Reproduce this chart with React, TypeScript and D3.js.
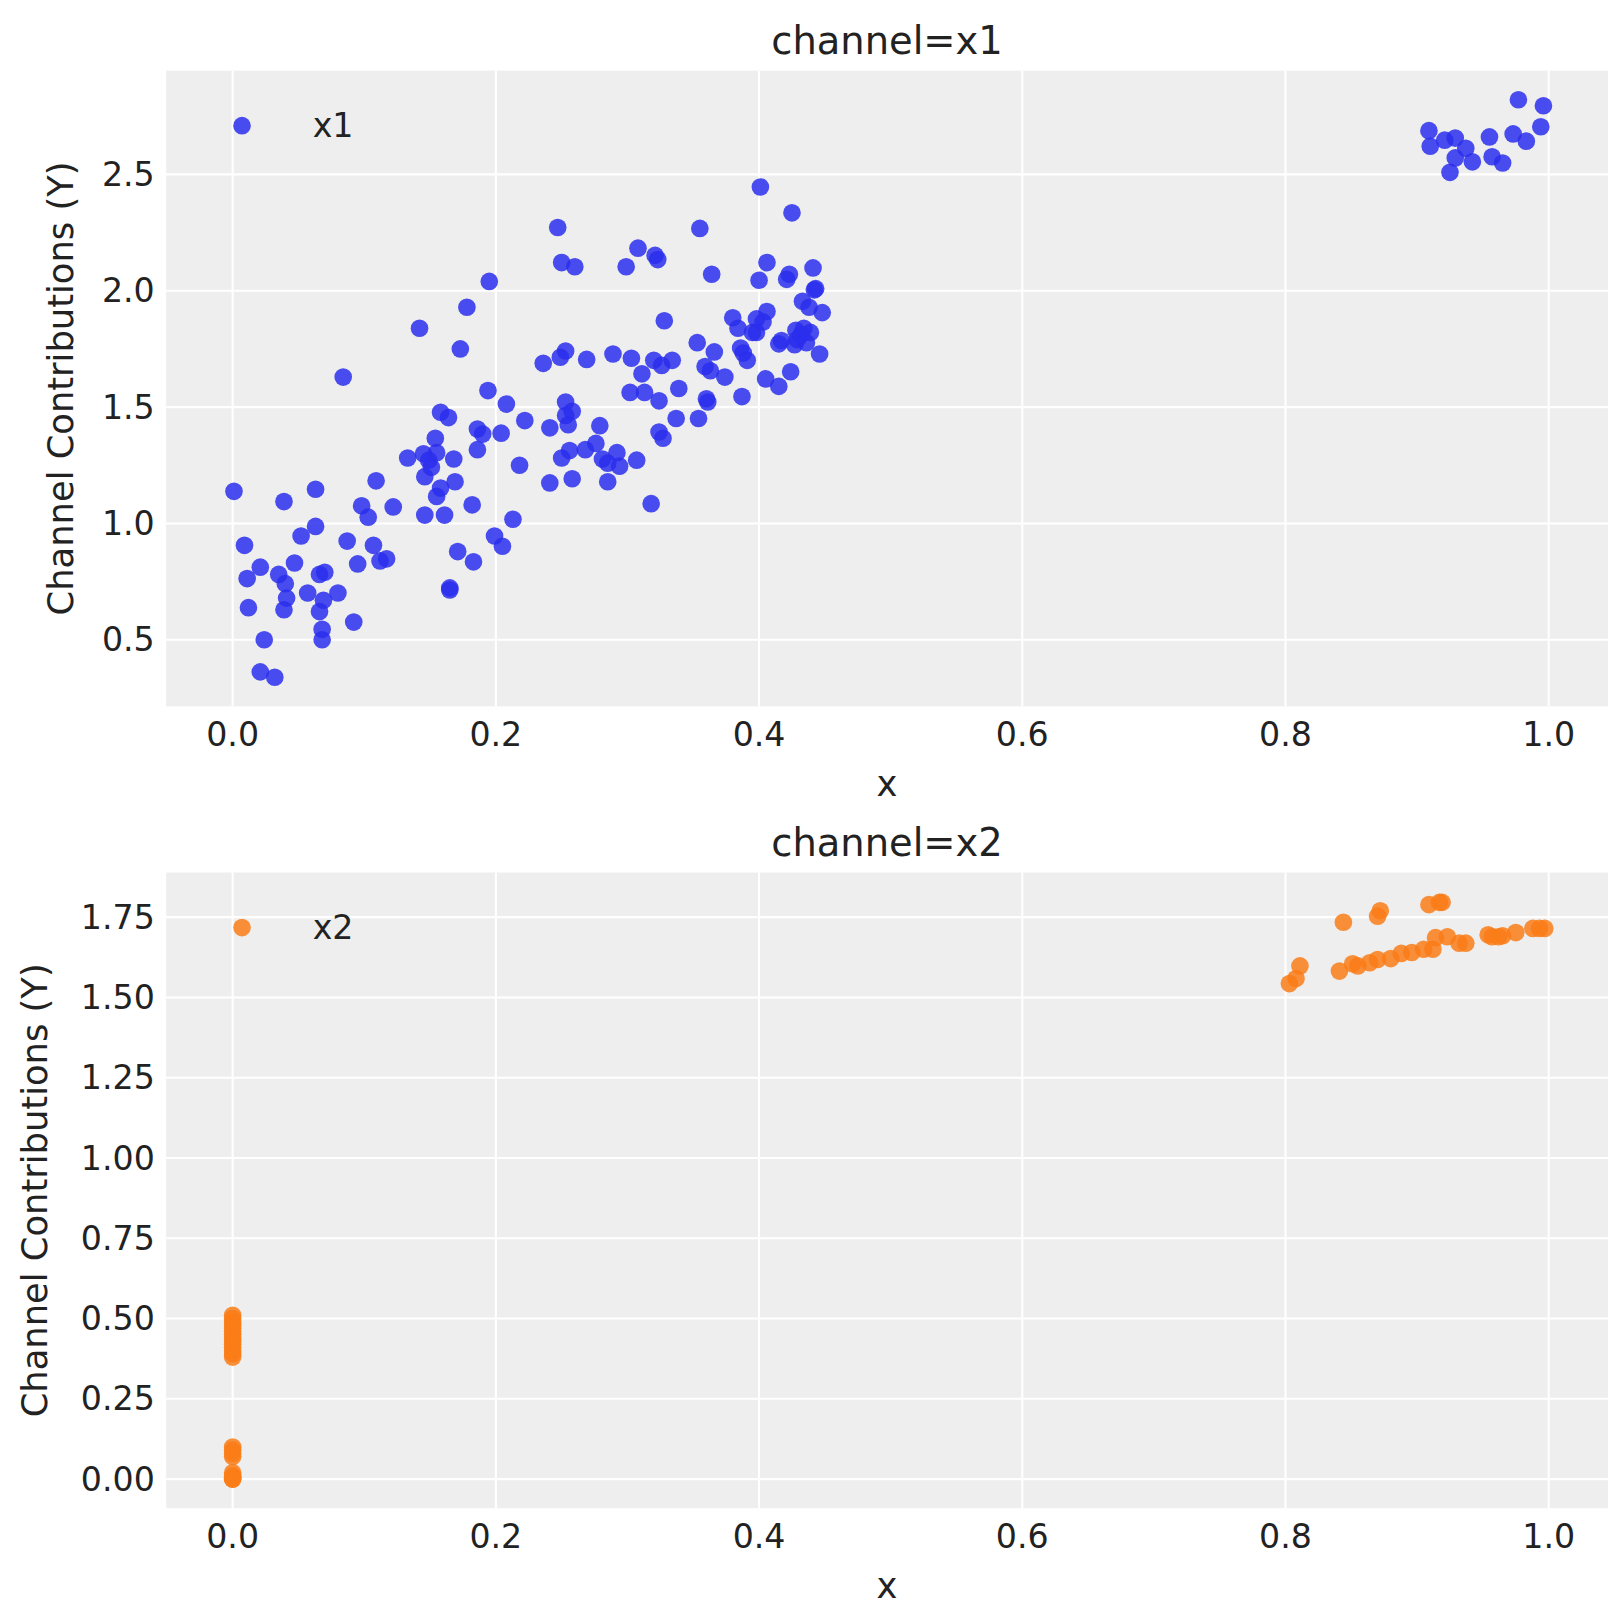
import React from "react";
import * as d3 from "d3";

const x1X = [0.001,0.009,0.011,0.012,0.021,0.024,0.021,0.032,0.035,0.039,0.040,0.041,0.039,0.047,0.052,0.057,0.063,0.063,0.066,0.070,0.069,0.066,0.068,0.068,0.080,0.084,0.087,0.092,0.095,0.098,0.103,0.107,0.109,0.112,0.117,0.122,0.133,0.142,0.145,0.146,0.146,0.149,0.151,0.154,0.155,0.155,0.158,0.158,0.161,0.164,0.165,0.165,0.168,0.169,0.171,0.173,0.178,0.182,0.183,0.186,0.186,0.190,0.194,0.195,0.199,0.204,0.205,0.208,0.213,0.218,0.222,0.236,0.241,0.241,0.247,0.249,0.250,0.250,0.253,0.253,0.253,0.255,0.256,0.258,0.258,0.260,0.268,0.269,0.276,0.279,0.281,0.285,0.285,0.289,0.292,0.294,0.299,0.302,0.303,0.307,0.308,0.311,0.313,0.318,0.320,0.321,0.323,0.324,0.324,0.326,0.327,0.328,0.334,0.337,0.339,0.353,0.354,0.355,0.359,0.360,0.361,0.363,0.364,0.366,0.374,0.380,0.384,0.386,0.387,0.388,0.391,0.395,0.398,0.398,0.400,0.401,0.403,0.405,0.406,0.406,0.415,0.415,0.417,0.421,0.423,0.424,0.425,0.427,0.428,0.429,0.432,0.433,0.434,0.436,0.438,0.439,0.441,0.442,0.443,0.446,0.448,
0.909,0.910,0.921,0.925,0.929,0.929,0.937,0.942,0.955,0.957,0.965,0.973,0.977,0.983,0.994,0.996];
const x1Y = [1.138,0.906,0.763,0.638,0.812,0.500,0.362,0.339,0.781,1.094,0.741,0.679,0.629,0.830,0.946,0.701,1.147,0.987,0.781,0.790,0.670,0.621,0.545,0.500,0.701,1.629,0.924,0.576,0.826,1.076,1.027,0.906,1.183,0.839,0.848,1.071,1.281,1.839,1.299,1.201,1.036,1.272,1.241,1.366,1.304,1.116,1.152,1.478,1.036,1.455,0.723,0.714,1.277,1.179,0.879,1.750,1.929,1.080,0.835,1.317,1.406,1.384,1.571,2.040,0.946,1.388,0.902,1.513,1.018,1.250,1.442,1.688,1.174,1.411,2.272,1.714,2.121,1.281,1.741,1.522,1.464,1.424,1.313,1.482,1.192,2.103,1.317,1.705,1.344,1.420,1.277,1.259,1.179,1.728,1.304,1.246,2.103,1.563,1.710,1.272,2.183,1.643,1.563,1.085,1.701,2.152,2.134,1.527,1.393,1.679,1.366,1.871,1.701,1.451,1.580,1.777,1.451,2.268,1.674,1.536,1.522,1.656,2.071,1.737,1.629,1.884,1.839,1.754,1.545,1.732,1.701,1.821,1.879,1.821,2.045,2.446,1.866,1.621,2.121,1.911,1.589,1.772,1.786,2.049,2.071,1.652,2.335,1.768,1.830,1.790,1.812,1.955,1.839,1.777,1.929,1.821,2.098,2.004,2.009,1.728,1.906,
2.688,2.621,2.647,2.509,2.656,2.571,2.612,2.554,2.661,2.576,2.549,2.674,2.821,2.643,2.705,2.795];

const x2X = [0,0,0,0,0,0,0,0,0,0,0,0,0,0,0,0,0,0,0,0,0,0,0,
0.803,0.808,0.811,0.841,0.844,0.851,0.855,0.864,0.870,0.870,0.872,0.880,0.888,0.896,0.905,0.909,0.912,0.914,0.917,0.919,0.923,0.932,0.937,0.954,0.957,0.962,0.965,0.975,0.988,0.993,0.997];
const x2Y = [0.51,0.50,0.49,0.48,0.47,0.46,0.45,0.44,0.43,0.42,0.41,0.40,0.39,0.38,0.10,0.09,0.08,0.07,0.02,0.01,0.005,0.0,0.0,
1.543,1.559,1.598,1.582,1.734,1.605,1.598,1.608,1.618,1.753,1.770,1.621,1.637,1.640,1.650,1.789,1.650,1.686,1.796,1.796,1.689,1.669,1.669,1.695,1.689,1.689,1.692,1.702,1.715,1.715,1.715];

const xTicks = [0, 0.2, 0.4, 0.6, 0.8, 1.0];
const y1Ticks = [0.5, 1.0, 1.5, 2.0, 2.5];
const y2Ticks = [0, 0.25, 0.5, 0.75, 1.0, 1.25, 1.5, 1.75];

const FONT = "DejaVu Sans";
const L = 160, R = 1548;

function Panel({ top, bottom, yDomain, yTicks, xs, ys, color, name, yFmt, labelX }: any) {
  const x = d3.scaleLinear().domain([-0.0505, 1.045]).range([L, R]);
  const y = d3.scaleLinear().domain(yDomain).range([bottom, top]);
  return (
    <g>
      <rect x={L} y={top} width={R - L} height={bottom - top} fill="#eeeeee" />
      {xTicks.map((t) => <line key={"gx" + t} x1={x(t)} x2={x(t)} y1={top} y2={bottom} stroke="#fff" strokeWidth={2} />)}
      {yTicks.map((t: number) => <line key={"gy" + t} x1={L} x2={R} y1={y(t)} y2={y(t)} stroke="#fff" strokeWidth={2} />)}
      {xs.map((v: number, i: number) => <circle key={i} cx={x(v)} cy={y(ys[i])} r={8.5} fill={color} fillOpacity={0.85} />)}
      {xTicks.map((t) => <text key={"tx" + t} x={x(t)} y={bottom + 38} textAnchor="middle" fontSize={32} fill="#222" fontFamily={FONT}>{t.toFixed(1)}</text>)}
      {yTicks.map((t: number) => <text key={"ty" + t} x={149} y={y(t)} dy="0.35em" textAnchor="end" fontSize={32} fill="#222" fontFamily={FONT}>{yFmt(t)}</text>)}
      <text x={(L + R) / 2} y={bottom + 86} textAnchor="middle" fontSize={34} fill="#222" fontFamily={FONT}>x</text>
      <text x={(L + R) / 2} y={top - 16} textAnchor="middle" fontSize={37} fill="#222" fontFamily={FONT}>{"channel=" + name}</text>
      <text transform={`translate(${labelX},${(top + bottom) / 2}) rotate(-90)`} textAnchor="middle" fontSize={34} fill="#222" fontFamily={FONT}>Channel Contributions (Y)</text>
      <circle cx={233} cy={top + 53} r={8.5} fill={color} fillOpacity={0.85} />
      <text x={301} y={top + 53} dy="0.35em" fontSize={32} fill="#222" fontFamily={FONT}>{name}</text>
    </g>
  );
}

export default function App() {
  return (
    <svg width={1623} height={1623} style={{ display: "block", position: "absolute", left: 0, top: 0 }}>
      <rect width={1623} height={1623} fill="#fff" />
      <g transform="scale(1.0387)">
        <Panel top={68} bottom={680} yDomain={[0.214, 2.946]} yTicks={y1Ticks} xs={x1X} ys={x1Y} color="#2a2eec" name="x1" yFmt={(t: number) => t.toFixed(1)} labelX={70} />
        <Panel top={840} bottom={1452} yDomain={[-0.0906, 1.889]} yTicks={y2Ticks} xs={x2X} ys={x2Y} color="#fa7c17" name="x2" yFmt={(t: number) => t.toFixed(2)} labelX={45} />
      </g>
    </svg>
  );
}
